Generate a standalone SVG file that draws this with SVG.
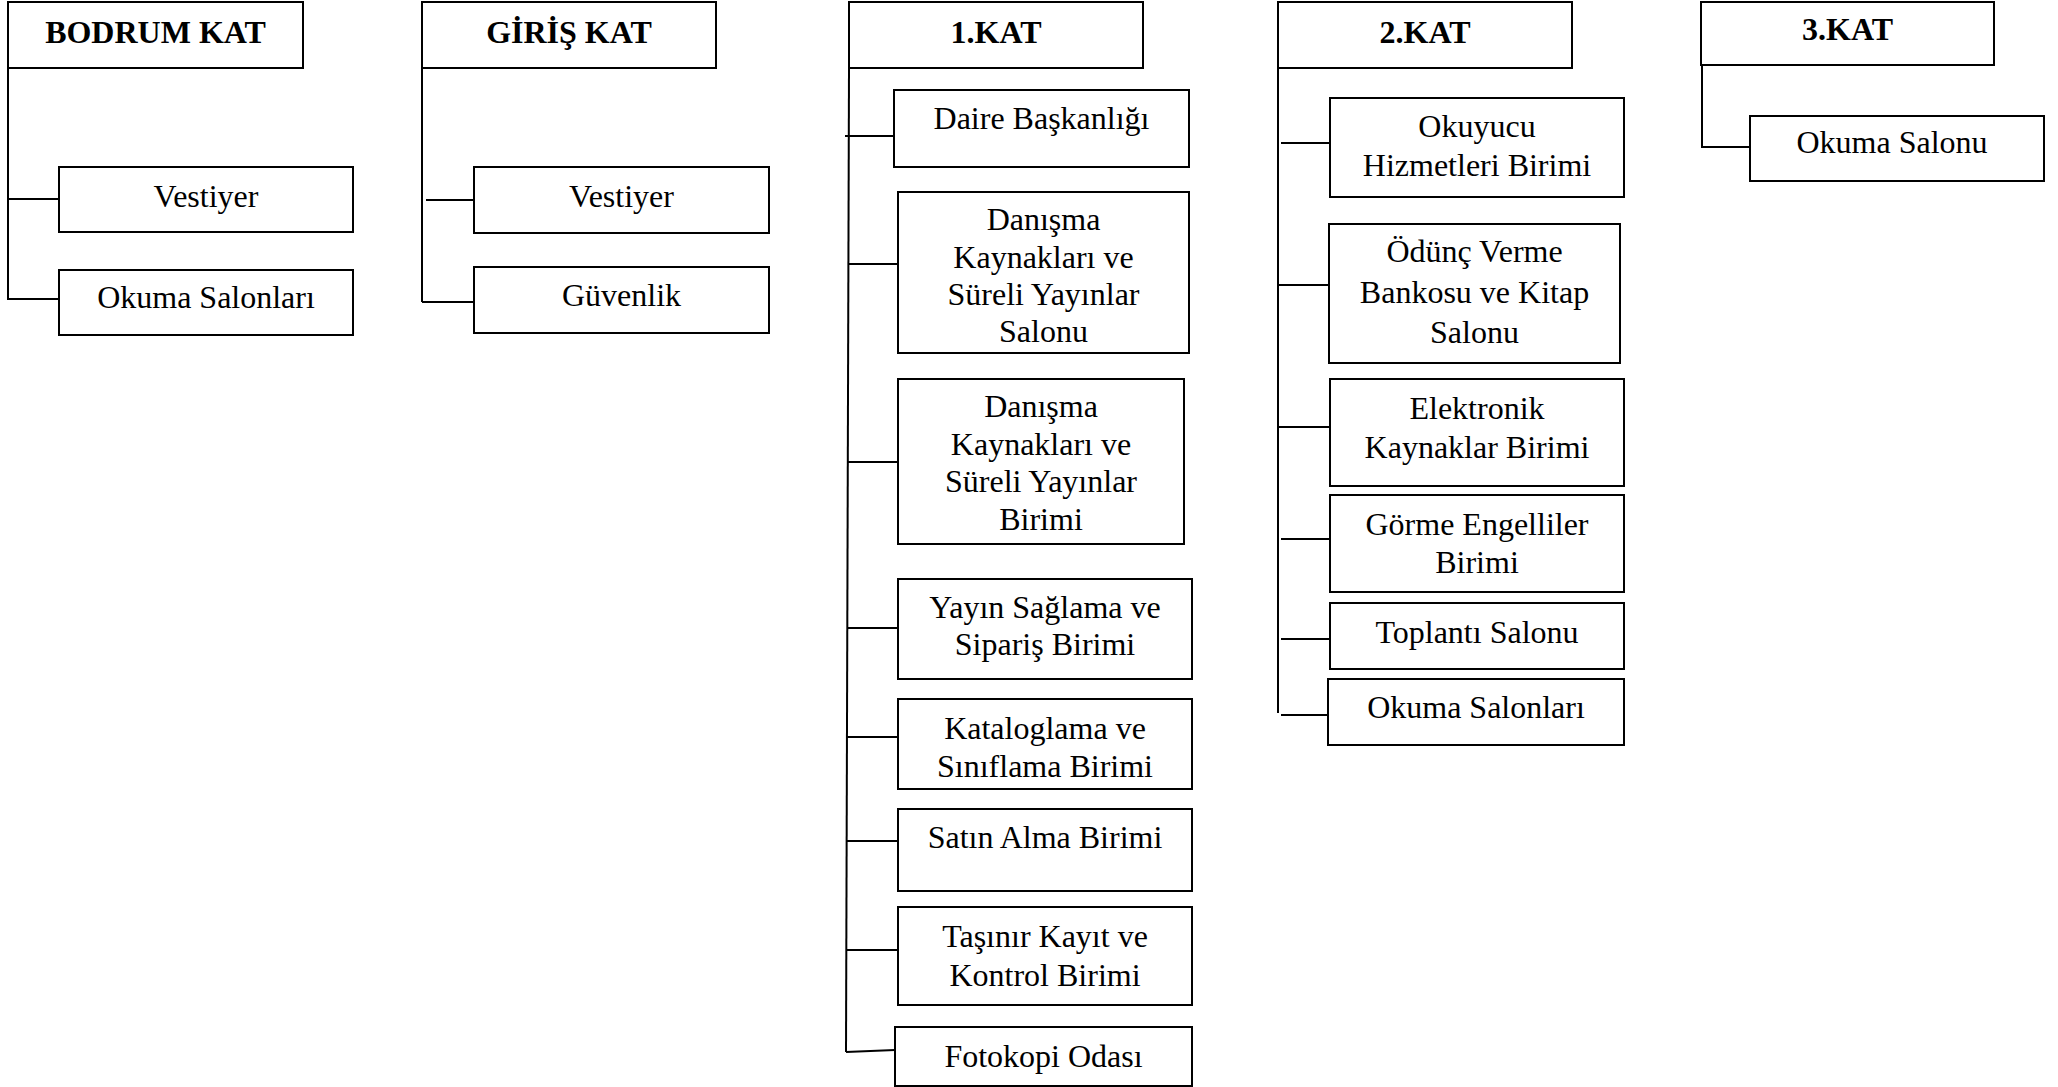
<svg xmlns="http://www.w3.org/2000/svg" width="2058" height="1087" viewBox="0 0 2058 1087">
<style>
rect{fill:#fff;stroke:#000;stroke-width:2}
.c line,.c path{stroke:#000;stroke-width:2;fill:none}
text{font-family:"Liberation Serif","Times New Roman",serif;font-size:32px;fill:#000;text-anchor:middle}
.h{font-weight:bold}
</style>
<rect x="0" y="0" width="2058" height="1087" style="stroke:none"/>
<g class="c" id="connectors">
<line x1="8" y1="68" x2="8" y2="300"/>
<line x1="8" y1="199" x2="59" y2="199"/>
<line x1="8" y1="299" x2="59" y2="299"/>
<line x1="422" y1="68" x2="422" y2="302"/>
<line x1="426" y1="200" x2="474" y2="200"/>
<line x1="422" y1="302" x2="474" y2="302"/>
<line x1="849" y1="68" x2="846" y2="1052"/>
<line x1="845" y1="136" x2="894" y2="136"/>
<line x1="849" y1="264" x2="898" y2="264"/>
<line x1="848" y1="462" x2="898" y2="462"/>
<line x1="848" y1="628" x2="898" y2="628"/>
<line x1="847" y1="737" x2="898" y2="737"/>
<line x1="847" y1="841" x2="898" y2="841"/>
<line x1="847" y1="950" x2="898" y2="950"/>
<line x1="846" y1="1052" x2="895" y2="1050"/>
<line x1="1278" y1="68" x2="1278" y2="713"/>
<line x1="1281" y1="143" x2="1330" y2="143"/>
<line x1="1278" y1="285" x2="1329" y2="285"/>
<line x1="1278" y1="427" x2="1330" y2="427"/>
<line x1="1281" y1="539" x2="1330" y2="539"/>
<line x1="1281" y1="639" x2="1330" y2="639"/>
<line x1="1281" y1="715" x2="1328" y2="715"/>
<path d="M1702 65 V147 H1750"/>
</g>
<g id="bodrum"><rect x="8" y="2" width="295" height="66"/><text class="h" x="155.5" y="43">BODRUM KAT</text></g>
<g id="bodrum-vestiyer"><rect x="59" y="167" width="294" height="65"/><text x="206" y="207">Vestiyer</text></g>
<g id="bodrum-okuma"><rect x="59" y="270" width="294" height="65"/><text x="206" y="308">Okuma Salonları</text></g>
<g id="giris"><rect x="422" y="2" width="294" height="66"/><text class="h" x="569" y="43">GİRİŞ KAT</text></g>
<g id="giris-vestiyer"><rect x="474" y="167" width="295" height="66"/><text x="621.5" y="207">Vestiyer</text></g>
<g id="giris-guvenlik"><rect x="474" y="267" width="295" height="66"/><text x="621.5" y="306">Güvenlik</text></g>
<g id="kat1"><rect x="849" y="2" width="294" height="66"/><text class="h" x="996" y="43">1.KAT</text></g>
<g id="daire"><rect x="894" y="90" width="295" height="77"/><text x="1041.5" y="129">Daire Başkanlığı</text></g>
<g id="danisma-salonu"><rect x="898" y="192" width="291" height="161"/><text x="1043.5" y="230">Danışma</text><text x="1043.5" y="268">Kaynakları ve</text><text x="1043.5" y="305">Süreli Yayınlar</text><text x="1043.5" y="342">Salonu</text></g>
<g id="danisma-birimi"><rect x="898" y="379" width="286" height="165"/><text x="1041" y="417">Danışma</text><text x="1041" y="455">Kaynakları ve</text><text x="1041" y="492">Süreli Yayınlar</text><text x="1041" y="530">Birimi</text></g>
<g id="yayin"><rect x="898" y="579" width="294" height="100"/><text x="1045" y="618">Yayın Sağlama ve</text><text x="1045" y="655">Sipariş Birimi</text></g>
<g id="katalog"><rect x="898" y="699" width="294" height="90"/><text x="1045" y="739">Kataloglama ve</text><text x="1045" y="777">Sınıflama Birimi</text></g>
<g id="satin"><rect x="898" y="809" width="294" height="82"/><text x="1045" y="848">Satın Alma Birimi</text></g>
<g id="tasinir"><rect x="898" y="907" width="294" height="98"/><text x="1045" y="947">Taşınır Kayıt ve</text><text x="1045" y="986">Kontrol Birimi</text></g>
<g id="fotokopi"><rect x="895" y="1027" width="297" height="59"/><text x="1043.5" y="1067">Fotokopi Odası</text></g>
<g id="kat2"><rect x="1278" y="2" width="294" height="66"/><text class="h" x="1425" y="43">2.KAT</text></g>
<g id="okuyucu"><rect x="1330" y="98" width="294" height="99"/><text x="1477" y="137">Okuyucu</text><text x="1477" y="176">Hizmetleri Birimi</text></g>
<g id="odunc"><rect x="1329" y="224" width="291" height="139"/><text x="1474.5" y="262">Ödünç Verme</text><text x="1474.5" y="303">Bankosu ve Kitap</text><text x="1474.5" y="343">Salonu</text></g>
<g id="elektronik"><rect x="1330" y="379" width="294" height="107"/><text x="1477" y="419">Elektronik</text><text x="1477" y="458">Kaynaklar Birimi</text></g>
<g id="gorme"><rect x="1330" y="495" width="294" height="97"/><text x="1477" y="535">Görme Engelliler</text><text x="1477" y="573">Birimi</text></g>
<g id="toplanti"><rect x="1330" y="603" width="294" height="66"/><text x="1477" y="643">Toplantı Salonu</text></g>
<g id="kat2-okuma"><rect x="1328" y="679" width="296" height="66"/><text x="1476" y="718">Okuma Salonları</text></g>
<g id="kat3"><rect x="1701" y="2" width="293" height="63"/><text class="h" x="1847.5" y="40">3.KAT</text></g>
<g id="kat3-okuma"><rect x="1750" y="116" width="294" height="65"/><text x="1892" y="153">Okuma Salonu</text></g>
</svg>
